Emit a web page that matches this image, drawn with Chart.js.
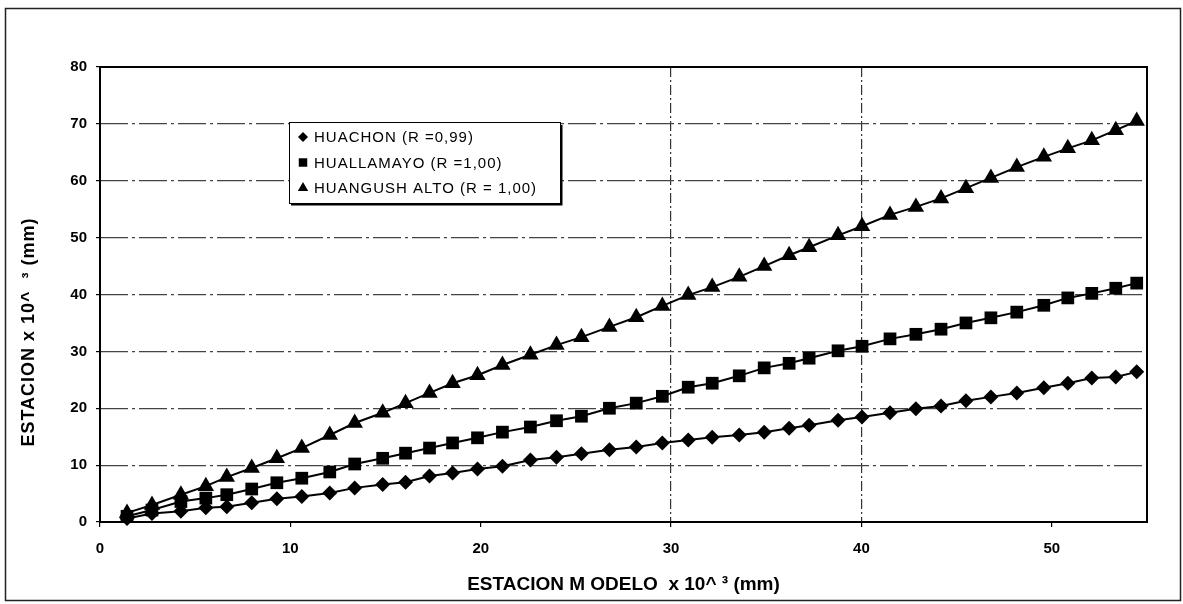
<!DOCTYPE html>
<html>
<head>
<meta charset="utf-8">
<script src="https://cdn.jsdelivr.net/npm/chart.js@4"></script>
<style>
  html, body { margin: 0; padding: 0; background: #fff; }
  #wrap { width: 1183px; height: 604px; }
</style>
</head>
<body>
<div id="wrap"><canvas id="curvas" width="1183" height="604"></canvas></div>
<script>
// Estación modelo (acumulado, x 10^3 mm)
const modelo = [1.42, 2.73, 4.25, 5.56, 6.66, 7.97, 9.29, 10.60, 12.07, 13.38,
  14.85, 16.05, 17.31, 18.52, 19.83, 21.14, 22.61, 23.98, 25.29, 26.76,
  28.17, 29.54, 30.90, 32.16, 33.58, 34.89, 36.20, 37.25, 38.77, 40.03,
  41.50, 42.86, 44.18, 45.49, 46.80, 48.16, 49.58, 50.84, 52.10, 53.36, 54.46];

// Acumulados de cada estación
const huachon = [0.6, 1.5, 1.9, 2.5, 2.7, 3.4, 4.1, 4.5, 5.1, 6.0,
  6.6, 7.0, 8.1, 8.6, 9.3, 9.8, 10.9, 11.4, 12.0, 12.7,
  13.2, 13.9, 14.4, 14.9, 15.3, 15.8, 16.5, 17.0, 17.9, 18.45,
  19.2, 19.9, 20.4, 21.3, 22.0, 22.7, 23.6, 24.4, 25.3, 25.5, 26.4];
const huallamayo = [1.0, 2.1, 3.6, 4.2, 4.8, 5.8, 6.9, 7.7, 8.8, 10.2,
  11.2, 12.1, 13.0, 13.9, 14.8, 15.8, 16.7, 17.8, 18.6, 20.0,
  20.9, 22.1, 23.7, 24.4, 25.7, 27.1, 27.9, 28.8, 30.1, 30.9,
  32.2, 33.0, 33.9, 35.0, 35.9, 36.9, 38.1, 39.4, 40.2, 41.1, 42.0];
const huangush = [1.6, 3.0, 4.8, 6.3, 7.9, 9.5, 11.2, 13.0, 15.3, 17.4,
  19.2, 20.9, 22.7, 24.4, 25.8, 27.6, 29.4, 31.1, 32.5, 34.3,
  36.0, 38.0, 39.9, 41.3, 43.1, 45.0, 46.9, 48.3, 50.4, 52.0,
  54.0, 55.4, 56.9, 58.7, 60.5, 62.4, 64.2, 65.7, 67.1, 68.9, 70.5];

const estaciones = ['HUACHON (R =0,99)', 'HUALLAMAYO (R =1,00)', 'HUANGUSH ALTO (R = 1,00)'];
const marcadores = ['rectRot', 'rect', 'triangle'];
const radios = [7.5, 9, 9.5];
const series = [huachon, huallamayo, huangush];

const xTitulo = 'ESTACION M ODELO  x 10^ ³ (mm)';
const yTitulo = 'ESTACION x 10^  ³ (mm)';

const fuente = "'Liberation Sans', Arial, sans-serif";

const puntos = (ys) => modelo.map((x, i) => ({ x: x, y: ys[i] }));

// marco exterior, recuadro del gráfico, leyenda y título vertical
const decorado = {
  id: 'decorado',
  beforeDatasetsDraw(chart) {
    const { ctx, chartArea: a } = chart;
    ctx.save();
    ctx.strokeStyle = '#000';
    ctx.lineWidth = 2;
    ctx.strokeRect(a.left, a.top, a.right - a.left, a.bottom - a.top);
    ctx.restore();
  },
  afterDraw(chart) {
    const ctx = chart.ctx;
    ctx.save();
    // marco exterior
    ctx.strokeStyle = '#222';
    ctx.lineWidth = 1.5;
    ctx.strokeRect(5.5, 8.5, 1175, 592);

    // leyenda
    const bx = 289, by = 122, bw = 271, bh = 81;
    ctx.fillStyle = '#fff';
    ctx.fillRect(bx, by, bw, bh);
    ctx.strokeStyle = '#000';
    ctx.lineWidth = 1;
    ctx.strokeRect(bx + 0.5, by + 0.5, bw, bh);
    ctx.lineWidth = 2;
    ctx.beginPath();
    ctx.moveTo(bx + 2, by + bh + 1.5);
    ctx.lineTo(bx + bw + 1.5, by + bh + 1.5);
    ctx.lineTo(bx + bw + 1.5, by + 3);
    ctx.stroke();

    ctx.font = '15px ' + fuente;
    ctx.letterSpacing = '1px';
    ctx.textBaseline = 'middle';
    ctx.textAlign = 'left';
    chart.data.datasets.forEach((ds, i) => {
      const y = by + 15 + i * 25.5;
      ctx.fillStyle = '#000';
      Chart.helpers.drawPoint(ctx, {
        pointStyle: ds.pointStyle, radius: i === 0 ? 5 : 6, rotation: 0, borderWidth: 0
      }, 303, y);
      ctx.fillStyle = '#000';
      ctx.fillText(ds.label, 314, y + 1);
    });

    // título del eje vertical
    ctx.letterSpacing = '1px';
    ctx.font = 'bold 18px ' + fuente;
    ctx.textAlign = 'center';
    ctx.translate(29, 332);
    ctx.rotate(-Math.PI / 2);
    ctx.fillText(yTitulo, 0, 0);
    ctx.restore();
  }
};

new Chart(document.getElementById('curvas'), {
  type: 'scatter',
  data: {
    datasets: series.map((ys, i) => ({
      label: estaciones[i],
      data: puntos(ys),
      showLine: true,
      borderColor: '#000',
      borderWidth: 2,
      backgroundColor: '#000',
      pointStyle: marcadores[i],
      pointRadius: radios[i],
      pointHoverRadius: radios[i],
      pointBorderWidth: 0,
      tension: 0
    }))
  },
  options: {
    responsive: false,
    animation: false,
    events: [],
    clip: false,
    layout: { padding: { top: 67, right: 36, bottom: 0, left: 0 } },
    plugins: { legend: { display: false }, tooltip: { enabled: false } },
    scales: {
      x: {
        type: 'linear',
        min: 0, max: 55,
        afterFit: (s) => { s.height = 82; },
        ticks: {
          stepSize: 10,
          includeBounds: false,
          color: '#000',
          padding: 13,
          font: { family: fuente, size: 15, weight: 'bold' }
        },
        grid: {
          color: (c) => (c.tick && (c.tick.value === 30 || c.tick.value === 40)) ? '#333' : 'rgba(0,0,0,0)',
          tickColor: '#000',
          tickLength: 5,
          lineWidth: 1.2
        },
        border: { display: false, dash: [10, 3, 2, 3] },
        title: {
          display: true,
          text: xTitulo,
          color: '#000',
          padding: { top: 0, bottom: 8 },
          font: { family: fuente, size: 19, weight: 'bold' }
        }
      },
      y: {
        min: 0, max: 80,
        afterFit: (s) => { s.width = 100; },
        ticks: {
          stepSize: 10,
          color: '#000',
          padding: 9,
          font: { family: fuente, size: 15, weight: 'bold' }
        },
        grid: {
          color: (c) => (c.tick && c.tick.value > 0 && c.tick.value < 80) ? '#444' : 'rgba(0,0,0,0)',
          tickColor: '#000',
          tickLength: 4,
          lineWidth: 1.2
        },
        border: { display: false, dash: [28, 4, 3, 4] }
      }
    }
  },
  plugins: [decorado]
});
</script>
</body>
</html>
